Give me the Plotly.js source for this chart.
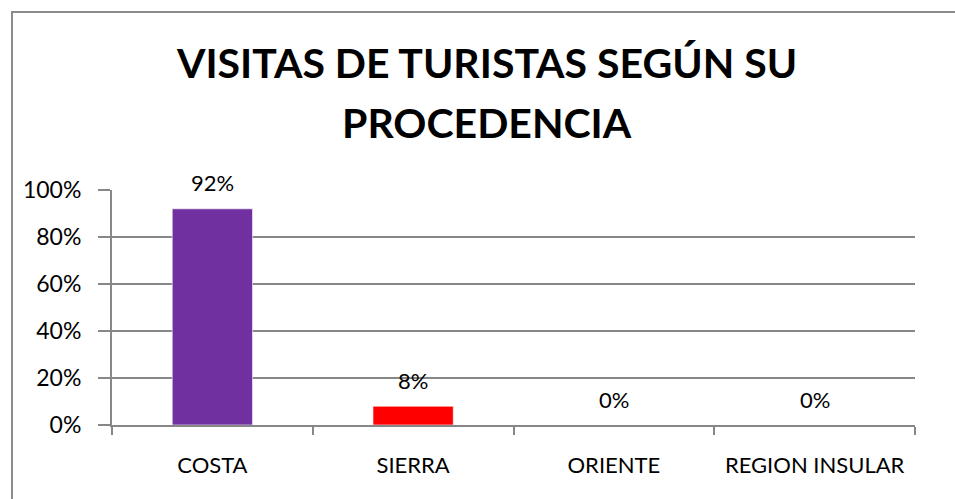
<!DOCTYPE html>
<html>
<head>
<meta charset="utf-8">
<script src="https://cdn.plot.ly/plotly-3.0.1.min.js"></script>
<style>
  html, body { margin: 0; padding: 0; background: #fff; }
  #wrap { position: relative; width: 955px; height: 499px; overflow: hidden; }
  #chart { width: 955px; height: 499px; }
  #frame { position: absolute; left: 11px; top: 11px; width: 1000px; height: 600px;
           border-left: 2px solid #8c8c8c; border-top: 2px solid #8c8c8c; pointer-events: none; }
</style>
</head>
<body>
<div id="wrap">
  <div id="chart"></div>
  <div id="frame"></div>
</div>
<script>
const categories = ["COSTA", "SIERRA", "ORIENTE", "REGION INSULAR"];
const shares = [0.92, 0.08, 0, 0];
const barColors = ["#7030A0", "#FF0000", "#7030A0", "#7030A0"];
const yTickVals = [0, 0.2, 0.4, 0.6, 0.8, 1.0];
const yTickText = ["0%", "20%", "40%", "60%", "80%", "100%"];
const titleLine1 = "VISITAS DE TURISTAS SEGÚN SU";
const titleLine2 = "PROCEDENCIA";

const FONT = "Lato, 'Open Sans', sans-serif";
const GRID = "#878787";

const trace = {
  type: "bar",
  x: categories,
  y: shares,
  marker: { color: barColors, line: { color: "rgba(255,255,255,0.6)", width: 1 } },
  hoverinfo: "none"
};

const labelAnnotations = categories.map((c, i) => ({
  x: c, y: shares[i], xref: "x", yref: "y",
  text: Math.round(shares[i] * 100) + "%",
  showarrow: false, yanchor: "middle", yshift: 26,
  font: { family: FONT, size: 22, color: "#000" }
}));

const layout = {
  width: 955, height: 499,
  margin: { l: 112, r: 40, t: 190, b: 74 },
  paper_bgcolor: "#fff", plot_bgcolor: "#fff",
  showlegend: false,
  bargap: 0.6,
  title: {
    text: titleLine1,
    x: 0.51, xanchor: "center", xref: "container",
    y: 1 - 64 / 499, yanchor: "middle", yref: "container",
    font: { family: FONT, size: 41, color: "#000", weight: "bold" }
  },
  annotations: [
    {
      text: "<b>" + titleLine2 + "</b>", xref: "paper", yref: "paper",
      x: (487 - 112) / 803, y: 1 + (190 - 123) / 235, xanchor: "center", yanchor: "middle",
      showarrow: false, font: { family: FONT, size: 41, color: "#000" }
    }
  ].concat(labelAnnotations),
  xaxis: {
    type: "category",
    tickson: "boundaries",
    ticks: "outside", ticklen: 8, tickwidth: 2, tickcolor: GRID,
    showline: true, linecolor: GRID, linewidth: 2,
    showgrid: false, zeroline: false,
    tickfont: { family: FONT, size: 22, color: "#000" },
    ticklabelstandoff: 20,
    fixedrange: true
  },
  yaxis: {
    range: [0, 1],
    tickvals: yTickVals, ticktext: yTickText,
    ticks: "outside", ticklen: 12, tickwidth: 2, tickcolor: GRID,
    showline: true, linecolor: GRID, linewidth: 2,
    showgrid: true, gridcolor: GRID, gridwidth: 2,
    zeroline: false,
    tickfont: { family: FONT, size: 23, color: "#000" },
    ticklabelstandoff: 12,
    fixedrange: true
  }
};

Plotly.newPlot("chart", [trace], layout, { displayModeBar: false, staticPlot: true });
</script>
</body>
</html>
